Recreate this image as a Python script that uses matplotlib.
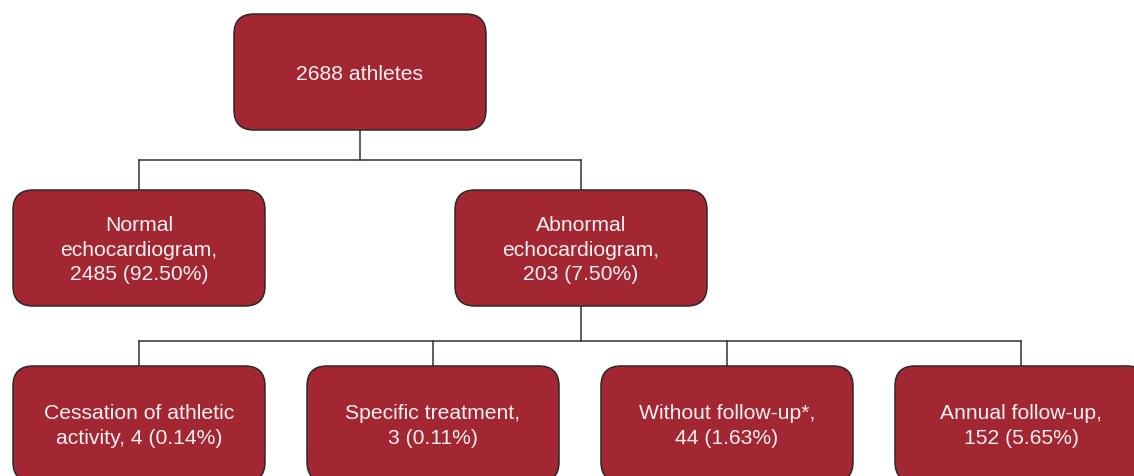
import matplotlib.pyplot as plt
from matplotlib.patches import FancyBboxPatch

# node texts
root_label = "2688 athletes"
level1_labels = ["Normal\nechocardiogram,\n2485 (92.50%)",
                 "Abnormal\nechocardiogram,\n203 (7.50%)"]
level2_labels = ["Cessation of athletic\nactivity, 4 (0.14%)",
                 "Specific treatment,\n3 (0.11%)",
                 "Without follow-up*,\n44 (1.63%)",
                 "Annual follow-up,\n152 (5.65%)"]

box_color = "#A22732"
edge_color = "#2a2a2a"
text_color = "#FBF1F1"
line_color = "#333333"
W, H = 252, 116
R = 20

plt.rcParams['font.family'] = ['Liberation Sans', 'DejaVu Sans']

fig = plt.figure(figsize=(11.34, 4.76), dpi=100)
ax = fig.add_axes([0, 0, 1, 1])
ax.set_xlim(0, 1134)
ax.set_ylim(476, 0)
ax.axis("off")


def box(x, y, text):
    p = FancyBboxPatch((x + R, y + R), W - 2 * R, H - 2 * R,
                       boxstyle=f"round,pad={R},rounding_size={R}",
                       fc=box_color, ec=edge_color, lw=1.1, zorder=2)
    ax.add_patch(p)
    ax.text(x + W / 2, y + H / 2 + 2, text, ha="center", va="center",
            color=text_color, fontsize=15.2, linespacing=1.36, zorder=3)


def link(x0, y0, xs, y_mid, y1):
    ax.plot([x0, x0], [y0, y_mid], color=line_color, lw=1.1, zorder=1)
    ax.plot([min(xs), max(xs)], [y_mid, y_mid], color=line_color, lw=1.1, zorder=1)
    for xc in xs:
        ax.plot([xc, xc], [y_mid, y1], color=line_color, lw=1.1, zorder=1)


root_x, root_y = 234, 14
l1_x = [13, 455]
l1_y = 190
l2_x = [13, 307, 601, 895]
l2_y = 366

link(root_x + W / 2, root_y + H, [x + W / 2 for x in l1_x], 160, l1_y)
link(l1_x[1] + W / 2, l1_y + H, [x + W / 2 for x in l2_x], 341, l2_y)

box(root_x, root_y, root_label)
for x, t in zip(l1_x, level1_labels):
    box(x, l1_y, t)
for x, t in zip(l2_x, level2_labels):
    box(x, l2_y, t)

fig.savefig("out.png", dpi=100)
